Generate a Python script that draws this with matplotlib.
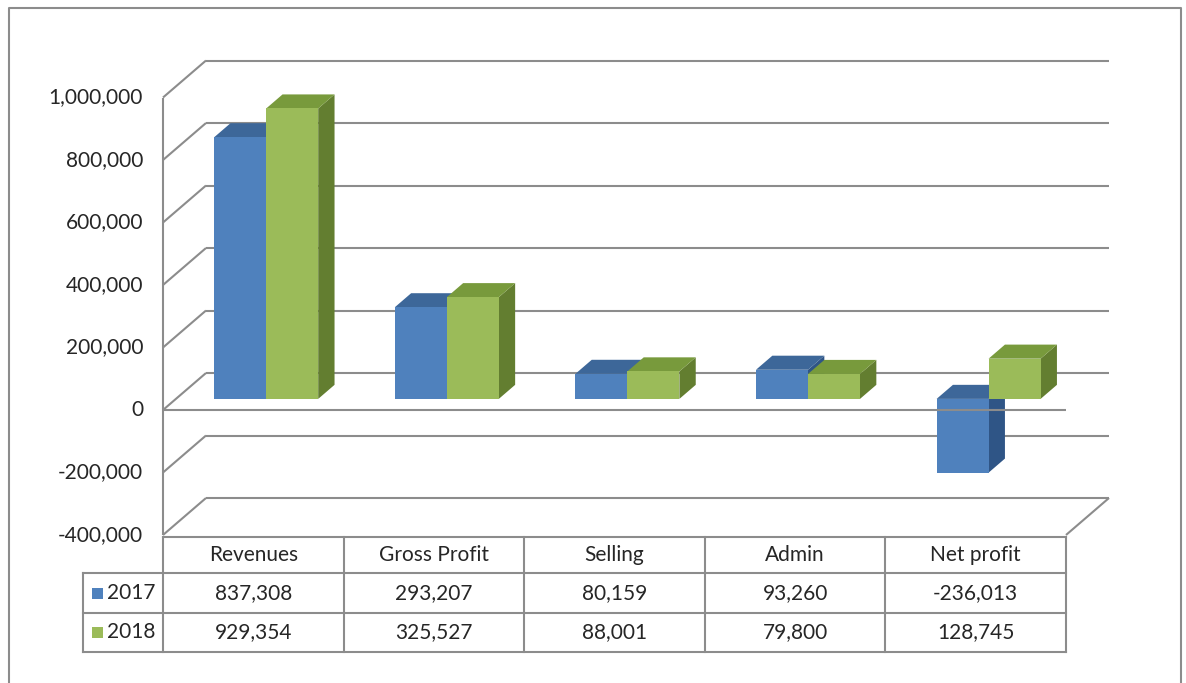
import numpy as np
import matplotlib.pyplot as plt
from matplotlib.patches import Polygon, Rectangle
from matplotlib.transforms import Affine2D, blended_transform_factory

categories = ['Revenues', 'Gross Profit', 'Selling', 'Admin', 'Net profit']
years = ['2017', '2018']
vals_2017 = [837308, 293207, 80159, 93260, -236013]
vals_2018 = [929354, 325527, 88001, 79800, 128745]
yticks = [1000000, 800000, 600000, 400000, 200000, 0, -200000, -400000]

# face colours: front, top, side
blue = ('#4F81BD', '#3D6799', '#2F5586')
green = ('#9BBB59', '#789A3C', '#637E30')
grid_c = '#8c8c8c'
txt_c = '#262626'

plt.rcParams['font.family'] = ['Lato', 'DejaVu Sans']

W, H = 1186, 683
fig = plt.figure(figsize=(W / 100, H / 100), dpi=100)
ax = fig.add_axes([0, 0, 1, 1])
ax.axis('off')

# scales: one category = CW px, one value unit = VS px
CW = 180.6
VS = 0.0003125
X0 = 253.3   # pixel of category 0 centre on front plane
Y0 = 410     # pixel of value 0 on front plane
ax.set_xlim((0 - X0) / CW, (W - X0) / CW)
ax.set_ylim((Y0 - H) / VS, Y0 / VS)

# depth of the 3d box in data units
DX = 43 / CW
DY = 37 / VS


def proj(x, v, d):
    return (x + d * DX, v + d * DY)


def line(p, q, z=1, **kw):
    ax.plot([p[0], q[0]], [p[1], q[1]], color=grid_c, lw=1.5,
            solid_capstyle='butt', zorder=z, **kw)


xl, xr = -0.5, len(categories) - 0.5
vmin, vmax = min(yticks), max(yticks)

# walls and gridlines
for t in yticks:
    line(proj(xl, t, 1), proj(xr, t, 1))
    line(proj(xl, t, 0), proj(xl, t, 1))
    ax.text(xl - 20 / CW, t, f'{t:,}', ha='right', va='center',
            fontsize=15, color=txt_c)
line((xl, vmin), (xl, vmax))
line((xl, 0), (xr, 0), z=5)
line((xr, vmin), proj(xr, vmin, 1))

# bars
w = 52 / CW
d0, d1 = 0.30, 0.68
for i in range(len(categories)):
    for k, (v, cols) in enumerate([(vals_2017[i], blue), (vals_2018[i], green)]):
        x1 = i - w + k * w
        x2 = x1 + w
        lo, hi = min(v, 0), max(v, 0)
        side = [proj(x2, lo, d0), proj(x2, lo, d1), proj(x2, hi, d1), proj(x2, hi, d0)]
        top = [proj(x1, hi, d0), proj(x1, hi, d1), proj(x2, hi, d1), proj(x2, hi, d0)]
        front = [proj(x1, lo, d0), proj(x2, lo, d0), proj(x2, hi, d0), proj(x1, hi, d0)]
        for poly, c in [(side, cols[2]), (top, cols[1]), (front, cols[0])]:
            ax.add_patch(Polygon(poly, closed=True, facecolor=c, edgecolor='none',
                                 zorder=3))

# data table (x in data, y in pixels from top)
tpix = Affine2D().scale(1, -1).translate(0, H)
tr = blended_transform_factory(ax.transData, tpix)
rows = [537, 573, 613, 652]
xleg = (83 - X0) / CW


def tline(xs, ys):
    ax.plot(xs, ys, color=grid_c, lw=1.5, transform=tr, zorder=5,
            solid_capstyle='projecting')


tline([xl, xr], [rows[0], rows[0]])
for r in rows[1:]:
    tline([xleg, xr], [r, r])
for i in range(len(categories) + 1):
    tline([xl + i, xl + i], [rows[0], rows[-1]])
tline([xleg, xleg], [rows[1], rows[-1]])

for i, c in enumerate(categories):
    ax.text(i, (rows[0] + rows[1]) / 2, c, ha='center', va='center',
            fontsize=15, color=txt_c, transform=tr)
for r, (yr, vals, cols) in enumerate([(years[0], vals_2017, blue),
                                     (years[1], vals_2018, green)]):
    yc = (rows[r + 1] + rows[r + 2]) / 2
    for i, v in enumerate(vals):
        ax.text(i, yc, f'{v:,}', ha='center', va='center',
                fontsize=15, color=txt_c, transform=tr)
    ax.text((107 - X0) / CW, yc, yr, ha='left', va='center',
            fontsize=15, color=txt_c, transform=tr)
    ax.add_patch(Rectangle((92, H - yc - 5.5), 11, 11, facecolor=cols[0],
                           edgecolor='none', transform=None, zorder=5))

# outer chart border
fig.add_artist(plt.Line2D([9, 9, 1181, 1181], [0, H - 8, H - 8, 0],
                          transform=None, color=grid_c, lw=1.5))

fig.savefig('out.png', dpi=100, facecolor='white')
